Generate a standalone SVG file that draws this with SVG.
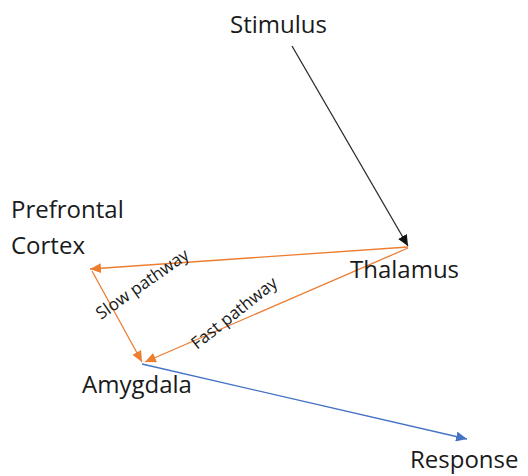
<svg xmlns="http://www.w3.org/2000/svg" width="528" height="476" viewBox="0 0 528 476">
  <style>
    .node { font-family: "Open Sans", "Liberation Sans", sans-serif; font-size: 24px; fill: #1a1a1a; }
    .lbl { font-family: "Open Sans", "Liberation Sans", sans-serif; font-size: 17px; fill: #1a1a1a; }
    .edge { fill: none; stroke-width: 1.3; }
    .black { stroke: #2b2b2b; }
    .orange { stroke: #ED7D31; }
    .blue { stroke: #4472C4; }
  </style>
  <defs>
    <marker id="ah-black" markerUnits="userSpaceOnUse" markerWidth="12" markerHeight="10" refX="11" refY="5" orient="auto">
      <path d="M0,0 L11,5 L0,10 Z" fill="#111"/>
    </marker>
    <marker id="ah-orange" markerUnits="userSpaceOnUse" markerWidth="12" markerHeight="10" refX="11" refY="5" orient="auto">
      <path d="M0,0 L11,5 L0,10 Z" fill="#ED7D31"/>
    </marker>
    <marker id="ah-blue" markerUnits="userSpaceOnUse" markerWidth="12" markerHeight="10" refX="11" refY="5" orient="auto">
      <path d="M0,0 L11,5 L0,10 Z" fill="#4472C4"/>
    </marker>
  </defs>

  <g id="connectors">
    <line class="edge black" x1="292" y1="46" x2="408" y2="246" marker-end="url(#ah-black)"/>
    <line class="edge orange" x1="408" y1="247" x2="90" y2="269" stroke-width="2" marker-end="url(#ah-orange)"/>
    <line class="edge orange" x1="92" y1="271" x2="142" y2="362" marker-end="url(#ah-orange)"/>
    <line class="edge orange" x1="408" y1="248" x2="145" y2="362" marker-end="url(#ah-orange)"/>
    <line class="edge blue" x1="142" y1="364" x2="467" y2="439" marker-end="url(#ah-blue)"/>
    <text class="lbl" transform="translate(101,320) rotate(-35)">Slow pathway</text>
    <text class="lbl" transform="translate(197,350) rotate(-38.5)">Fast pathway</text>
  </g>

  <g id="stimulus"><text class="node" x="230" y="33">Stimulus</text></g>
  <g id="prefrontal-cortex">
    <text class="node" x="11" y="218">Prefrontal</text>
    <text class="node" x="11" y="254">Cortex</text>
  </g>
  <g id="thalamus"><text class="node" x="350" y="278">Thalamus</text></g>
  <g id="amygdala"><text class="node" x="82" y="393">Amygdala</text></g>
  <g id="response"><text class="node" x="410" y="468">Response</text></g>
</svg>
